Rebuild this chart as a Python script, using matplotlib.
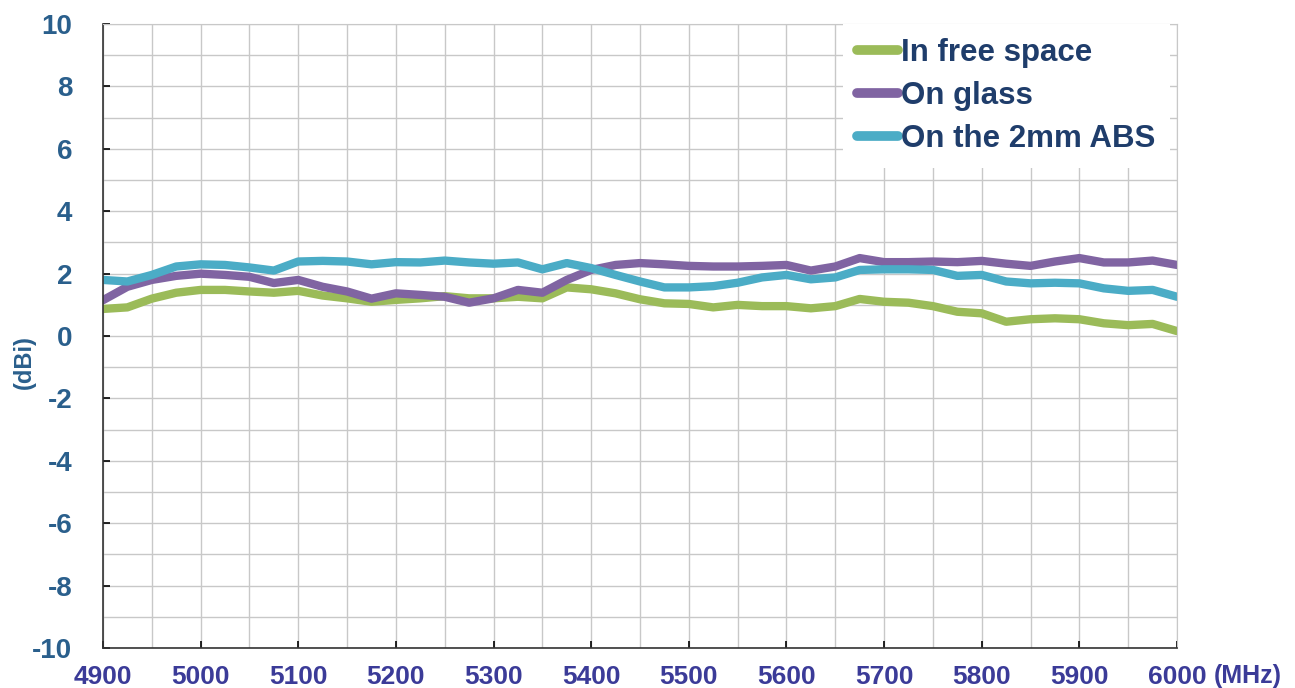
import matplotlib
matplotlib.use("Agg")
import matplotlib.pyplot as plt
from matplotlib.ticker import MultipleLocator

freq = [4900, 4925, 4950, 4975, 5000, 5025, 5050, 5075, 5100, 5125, 5150, 5175,
        5200, 5225, 5250, 5275, 5300, 5325, 5350, 5375, 5400, 5425, 5450, 5475,
        5500, 5525, 5550, 5575, 5600, 5625, 5650, 5675, 5700, 5725, 5750, 5775,
        5800, 5825, 5850, 5875, 5900, 5925, 5950, 5975, 6000]

free_space = [0.87, 0.92, 1.20, 1.39, 1.48, 1.48, 1.43, 1.39, 1.45, 1.30, 1.21, 1.10,
              1.16, 1.21, 1.28, 1.21, 1.21, 1.26, 1.21, 1.56, 1.50, 1.37, 1.18, 1.05,
              1.03, 0.92, 1.00, 0.96, 0.96, 0.89, 0.96, 1.19, 1.10, 1.07, 0.96, 0.78,
              0.73, 0.46, 0.54, 0.57, 0.54, 0.41, 0.35, 0.39, 0.16]

on_glass = [1.15, 1.58, 1.80, 1.93, 2.00, 1.96, 1.90, 1.70, 1.80, 1.58, 1.43, 1.20,
            1.37, 1.32, 1.26, 1.07, 1.21, 1.48, 1.39, 1.80, 2.12, 2.28, 2.34, 2.30,
            2.25, 2.23, 2.23, 2.25, 2.28, 2.10, 2.23, 2.50, 2.37, 2.37, 2.39, 2.37,
            2.41, 2.32, 2.25, 2.39, 2.50, 2.36, 2.36, 2.42, 2.28]

on_abs = [1.80, 1.75, 1.96, 2.23, 2.30, 2.28, 2.20, 2.10, 2.39, 2.41, 2.39, 2.30,
          2.37, 2.36, 2.42, 2.36, 2.32, 2.36, 2.14, 2.34, 2.18, 1.96, 1.75, 1.56,
          1.56, 1.60, 1.71, 1.88, 1.96, 1.82, 1.88, 2.12, 2.14, 2.14, 2.12, 1.93,
          1.96, 1.75, 1.69, 1.71, 1.69, 1.53, 1.45, 1.48, 1.26]

labels = ["In free space", "On glass", "On the 2mm ABS"]
colors = ["#9BBB59", "#8064A2", "#4BACC6"]

plt.rcParams["font.family"] = ["Liberation Sans", "DejaVu Sans"]
plt.rcParams["font.weight"] = "bold"
plt.rcParams["axes.unicode_minus"] = False

fig = plt.figure(figsize=(12.95, 6.88), dpi=100)
ax = fig.add_axes([0.0795, 0.058, 0.8294, 0.907])

for ys, lab, c in zip([free_space, on_glass, on_abs], labels, colors):
    ax.plot(freq, ys, color=c, lw=6, label=lab,
            solid_joinstyle="round", solid_capstyle="round")

ax.set_xlim(4900, 6000)
ax.set_ylim(-10, 10)
ax.xaxis.set_major_locator(MultipleLocator(100))
ax.xaxis.set_minor_locator(MultipleLocator(50))
ax.yaxis.set_major_locator(MultipleLocator(2))
ax.yaxis.set_minor_locator(MultipleLocator(1))
ax.grid(which="both", color="#c8c8c8", lw=1)
ax.set_axisbelow(True)

ax.tick_params(which="major", direction="in", length=5, width=1.2)
ax.tick_params(which="minor", length=0)
ax.tick_params(axis="x", labelsize=19, labelcolor="#3B3B98", pad=12)
ax.tick_params(axis="y", labelsize=20, labelcolor="#2A5F8C", pad=22)

for s in ["top", "right"]:
    ax.spines[s].set_color("#c8c8c8")
for s in ["left", "bottom"]:
    ax.spines[s].set_color("#333333")
    ax.spines[s].set_linewidth(1.2)

ax.set_ylabel("(dBi)", fontsize=17, color="#2A5F8C", fontweight="bold")
ax.yaxis.set_label_coords(-0.062, 0.458)
fig.text(0.9637, 0.0174, "(MHz)", fontsize=18, color="#3B3B98",
         fontweight="bold", ha="center", va="center")

leg = ax.legend(loc="upper right", bbox_to_anchor=(0.993, 1.0), fontsize=22.5,
                frameon=True, fancybox=False, framealpha=1,
                borderaxespad=0, handlelength=1.3, handletextpad=0.1,
                labelspacing=0.42, borderpad=0.45)
leg.get_frame().set_edgecolor("white")
leg.get_frame().set_linewidth(0)
for t in leg.get_texts():
    t.set_color("#1F3D6B")
for h in leg.get_lines():
    h.set_linewidth(7)

fig.savefig("out.png", dpi=100)
